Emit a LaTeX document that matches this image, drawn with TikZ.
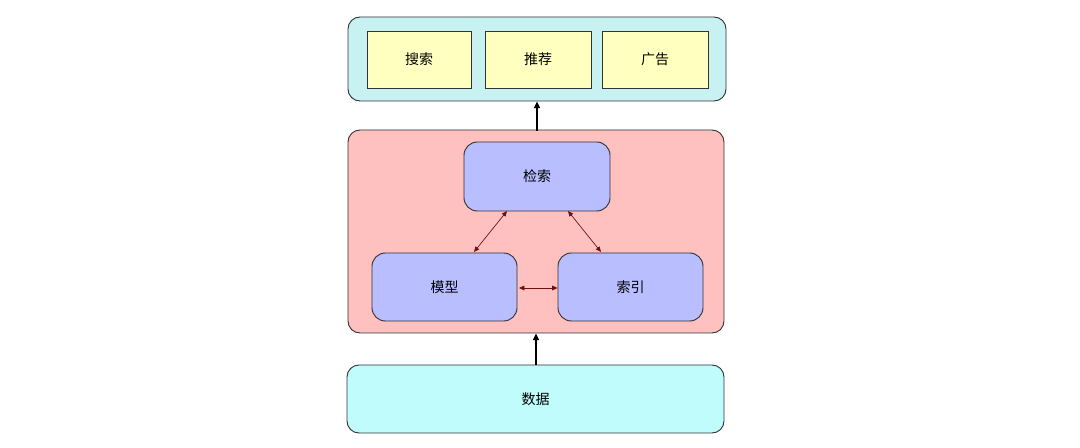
\documentclass[tikz,border=0pt]{standalone}
\usepackage{fontspec}
\newfontfamily\cjk{Noto Sans CJK SC}
\usetikzlibrary{arrows.meta}
\definecolor{cyanbg}{HTML}{C8F2F2}
\definecolor{databg}{HTML}{C0FCFC}
\definecolor{yellowbg}{HTML}{FFFFC0}
\definecolor{redbg}{HTML}{FFC0C0}
\definecolor{bluebg}{HTML}{B8BEFF}
\definecolor{edgec}{HTML}{333333}
\definecolor{arrowred}{HTML}{701010}
\tikzset{
  container/.style={draw=edgec, line width=0.7pt, rounded corners=9pt, inner sep=0pt},
  lbl/.style={font=\cjk\fontsize{10.5}{12}\selectfont},
  ybox/.style={draw=edgec, line width=0.7pt, fill=yellowbg, inner sep=0pt, lbl},
  bbox/.style={draw=edgec, line width=0.7pt, fill=bluebg, rounded corners=10pt, inner sep=0pt, lbl},
  uparrow/.style={-{Triangle[length=5pt,width=4.5pt]}, line width=1.1pt, black},
  biarrow/.style={{Triangle[length=4pt,width=3.5pt]}-{Triangle[length=4pt,width=3.5pt]}, line width=0.5pt, arrowred},
}
\begin{document}
\begin{tikzpicture}[x=0.75pt,y=-0.75pt]
\useasboundingbox (0,0) rectangle (1080,448);
\fill[white] (0,0) rectangle (1080,448);
% top container
\node[container, fill=cyanbg, minimum width=378*0.75pt, minimum height=84*0.75pt] (top) at (537,59) {};
\node[ybox, minimum width=104*0.75pt, minimum height=57*0.75pt] (sousuo) at (419,59.5) {搜索};
\node[ybox, minimum width=106*0.75pt, minimum height=57*0.75pt] (tuijian) at (538,59.5) {推荐};
\node[ybox, minimum width=106*0.75pt, minimum height=57*0.75pt] (guanggao) at (655,59.5) {广告};
% middle container
\node[container, fill=redbg, minimum width=376*0.75pt, minimum height=203*0.75pt] (mid) at (536,231.5) {};
\node[bbox, minimum width=146*0.75pt, minimum height=69*0.75pt] (jiansuo) at (537,176.5) {检索};
\node[bbox, minimum width=145*0.75pt, minimum height=68*0.75pt] (moxing) at (444.5,287) {模型};
\node[bbox, minimum width=145*0.75pt, minimum height=68*0.75pt] (suoyin) at (630.5,287) {索引};
% bottom
\node[container, fill=databg, minimum width=377*0.75pt, minimum height=68*0.75pt, lbl] (shuju) at (535.5,399) {数据};
% arrows
\coordinate (a1) at (537,131);
\draw[uparrow] (a1) -- (top.south -| a1);
\draw[uparrow] (shuju.north -| mid.south) -- (mid.south);
\coordinate (j1) at (507,211);
\coordinate (m1) at (474,252);
\coordinate (j2) at (568,211);
\coordinate (s1) at (601,252);
\draw[biarrow] (m1) -- (j1);
\draw[biarrow] (j2) -- (s1);
\coordinate (m2) at (519,288);
\draw[biarrow] (m2) -- (suoyin.west |- m2);
\end{tikzpicture}
\end{document}
